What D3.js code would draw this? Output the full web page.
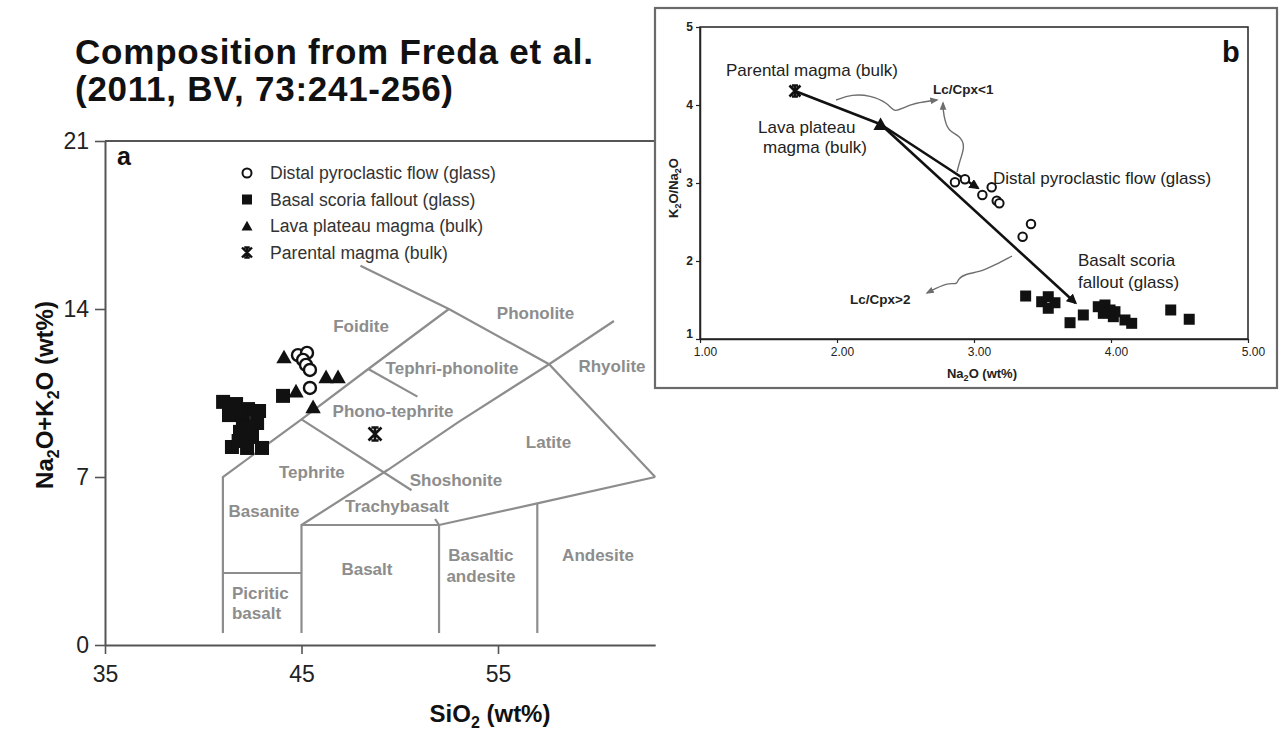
<!DOCTYPE html>
<html>
<head>
<meta charset="utf-8">
<script src="https://cdn.jsdelivr.net/npm/d3@7"></script>
<style>
  body { margin: 0; background: #fff; }
  svg { display: block; }
  text { font-family: "Liberation Sans", Arial, Helvetica, sans-serif; }
</style>
</head>
<body>
<svg id="chart" width="1283" height="756"></svg>
<script>
// ---------- Panel a: total alkali vs silica (wt%) ----------
const tasTicksX = [35, 45, 55];
const tasTicksY = [0, 7, 14, 21];

// [SiO2, Na2O+K2O]
const distalGlassTAS = [[44.82, 12.08], [45.28, 12.17], [45.08, 11.88], [45.23, 11.67], [45.43, 11.46], [45.43, 10.71]];
const basalScoriaTAS = [
  [41.01, 10.13], [41.67, 10.04], [42.28, 9.83], [42.84, 9.75], [41.31, 9.58], [42.02, 9.38],
  [42.74, 9.25], [41.87, 8.88], [42.48, 8.67], [41.46, 8.25], [42.23, 8.21], [42.99, 8.21],
  [41.9, 9.7], [42.3, 9.1], [41.8, 8.5], [44.06, 10.38]
];
const lavaPlateauTAS = [[44.11, 12.0], [44.72, 10.58], [46.25, 11.17], [46.86, 11.17], [45.59, 9.92]];
const parentalTAS = [[48.74, 8.79]];

// classification field boundaries, [SiO2, Na2O+K2O]
const tasBoundaries = [
  [[41, 0.5], [41, 7], [45, 9.4], [48.4, 11.5], [52.5, 14]],
  [[48.0, 15.8], [52.5, 14], [57.6, 11.7], [63, 7]],
  [[41, 3], [45, 3]],
  [[45, 0.5], [45, 5], [52, 5], [57, 5.9], [63, 7]],
  [[52, 0.5], [52, 5]],
  [[57, 0.5], [57, 5.9]],
  [[45, 5], [49.4, 7.3], [53, 9.3], [57.6, 11.7], [60.9, 13.5]],
  [[45, 9.4], [50.6, 6.45]],
  [[48.4, 11.5], [50.9, 10.35]],
  [[52, 5], [51.8, 5.25]]
];

// field names: [SiO2, Na2O+K2O, text, anchor]
const tasFieldNames = [
  [48.03, 13.29, "Foidite", "middle"],
  [56.91, 13.83, "Phonolite", "middle"],
  [52.66, 11.54, "Tephri-phonolite", "middle"],
  [60.80, 11.63, "Rhyolite", "middle"],
  [49.66, 9.75, "Phono-tephrite", "middle"],
  [57.57, 8.46, "Latite", "middle"],
  [45.53, 7.21, "Tephrite", "middle"],
  [52.86, 6.88, "Shoshonite", "middle"],
  [43.09, 5.58, "Basanite", "middle"],
  [49.86, 5.79, "Trachybasalt", "middle"],
  [48.33, 3.17, "Basalt", "middle"],
  [54.13, 3.75, "Basaltic", "middle"],
  [54.13, 2.88, "andesite", "middle"],
  [60.09, 3.75, "Andesite", "middle"],
  [41.46, 2.17, "Picritic", "start"],
  [41.46, 1.33, "basalt", "start"]
];

const legendLabels = [
  "Distal pyroclastic flow (glass)",
  "Basal scoria fallout (glass)",
  "Lava plateau magma (bulk)",
  "Parental magma (bulk)"
];
const legendSymbols = ["circle", "square", "triangle", "star"];

// ---------- Panel b: K2O/Na2O vs Na2O ----------
const naTicks = [1, 2, 3, 4, 5];
const ratioTicks = [1, 2, 3, 4, 5];

// [Na2O, K2O/Na2O]
const distalGlassRatio = [[2.861, 3.009], [2.934, 3.047], [3.061, 2.846], [3.129, 2.945], [3.166, 2.773], [3.185, 2.740], [3.355, 2.312], [3.416, 2.474]];
const basalScoriaRatio = [
  [3.377, 1.551], [3.494, 1.478], [3.542, 1.542], [3.591, 1.465], [3.542, 1.394], [3.701, 1.209],
  [3.798, 1.308], [3.907, 1.414], [3.956, 1.436], [3.993, 1.372], [3.944, 1.329], [4.017, 1.286],
  [4.029, 1.350], [4.102, 1.244], [4.151, 1.201], [4.436, 1.372], [4.571, 1.253]
];
const lavaPlateauRatio = [[2.318, 3.753]];
const parentalRatio = [[1.693, 4.179]];

// evolution paths: parental -> lava plateau -> glasses
const evolutionPaths = [
  [[1.693, 4.179], [2.318, 3.753]],
  [[2.318, 3.753], [3.029, 2.936]],
  [[2.318, 3.753], [3.741, 1.462]]
];
// hand-drawn pointers to the Lc/Cpx notes
const pointerPaths = [
  [[1.993, 4.064], [2.109, 4.138], [2.241, 4.125], [2.372, 4.026], [2.416, 3.903], [2.482, 3.964], [2.569, 4.026], [2.730, 4.064]],
  [[2.876, 3.141], [2.898, 3.295], [2.935, 3.474], [2.898, 3.603], [2.815, 3.667], [2.788, 3.795], [2.774, 3.936], [2.774, 4.026]],
  [[3.277, 2.064], [3.153, 1.949], [3.044, 1.859], [2.934, 1.833], [2.883, 1.769], [2.876, 1.692], [2.810, 1.731], [2.657, 1.590]]
];

// ================= drawing =================
const svg = d3.select("#chart");
svg.append("rect").attr("width", 1283).attr("height", 756).attr("fill", "#fff");

const ink = "#111";
const fieldGrey = "#8d8d8d";

// symbol path generators (centred on 0,0)
function symbolPath(type, s) {
  const h = s / 2;
  if (type === "square") return `M${-h},${-h}H${h}V${h}H${-h}Z`;
  if (type === "triangle") return `M0,${-h * 1.05}L${h * 1.1},${h * 0.9}L${-h * 1.1},${h * 0.9}Z`;
  if (type === "star") return `M${-h},${-h}L${h},${h}M${h},${-h}L${-h},${h}M0,${-h}L0,${h}M${-h * 0.55},${-h}H${h * 0.55}M${-h * 0.55},${h}H${h * 0.55}`;
  return "";
}

function drawMarker(g, type, cx, cy, s, sw) {
  if (type === "circle") {
    g.append("circle").attr("cx", cx).attr("cy", cy).attr("r", s / 2)
      .attr("fill", "#fff").attr("stroke", ink).attr("stroke-width", sw);
  } else if (type === "star") {
    g.append("path").attr("transform", `translate(${cx},${cy})`).attr("d", symbolPath(type, s))
      .attr("fill", "none").attr("stroke", ink).attr("stroke-width", sw);
  } else {
    g.append("path").attr("transform", `translate(${cx},${cy})`).attr("d", symbolPath(type, s))
      .attr("fill", ink);
  }
}

// ---- title ----
const title = svg.append("g").attr("font-size", 35).attr("font-weight", "bold").attr("fill", ink);
title.append("text").attr("x", 75).attr("y", 64)
  .attr("textLength", 518).attr("lengthAdjust", "spacing").text("Composition from Freda et al.");
title.append("text").attr("x", 75).attr("y", 101)
  .attr("textLength", 378).attr("lengthAdjust", "spacing").text("(2011, BV, 73:241-256)");

// ---- panel a ----
const xA = d3.scaleLinear().domain([35, 63]).range([105, 105 + 28 * 19.65]);
const yA = d3.scaleLinear().domain([0, 21]).range([645, 141]);
const gA = svg.append("g");

const lineA = d3.line().x(d => xA(d[0])).y(d => yA(d[1]));

gA.selectAll("path.field").data(tasBoundaries).join("path")
  .attr("class", "field").attr("d", lineA)
  .attr("fill", "none").attr("stroke", fieldGrey).attr("stroke-width", 2.2)
  .attr("stroke-linejoin", "miter");

gA.selectAll("text.fname").data(tasFieldNames).join("text")
  .attr("class", "fname")
  .attr("x", d => xA(d[0])).attr("y", d => yA(d[1]))
  .attr("dy", "0.35em")
  .attr("text-anchor", d => d[3])
  .attr("font-size", 17).attr("font-weight", "bold").attr("fill", fieldGrey)
  .text(d => d[2]);

// frame and axes
gA.append("line").attr("x1", xA(35)).attr("x2", xA(63)).attr("y1", yA(21)).attr("y2", yA(21))
  .attr("stroke", "#555").attr("stroke-width", 2);

const axA_x = gA.append("g").attr("transform", `translate(0,${yA(0)})`)
  .call(d3.axisBottom(xA).tickValues(tasTicksX).tickFormat(d3.format("d")).tickSize(9).tickSizeOuter(0).tickPadding(12));
const axA_y = gA.append("g").attr("transform", `translate(${xA(35)},0)`)
  .call(d3.axisLeft(yA).tickValues(tasTicksY).tickFormat(d3.format("d")).tickSize(10).tickSizeOuter(0).tickPadding(6));
[axA_x, axA_y].forEach(ax => {
  ax.select(".domain").attr("stroke", "#555").attr("stroke-width", 2);
  ax.selectAll(".tick line").attr("stroke", "#555").attr("stroke-width", 1.6);
  ax.selectAll(".tick text").attr("font-size", 23).attr("fill", "#222")
    .attr("font-family", '"Liberation Sans", Arial, sans-serif');
});

// axis titles
const xTitleA = gA.append("text").attr("x", 490).attr("y", 722).attr("text-anchor", "middle")
  .attr("font-size", 24).attr("font-weight", "bold").attr("fill", ink);
xTitleA.append("tspan").text("SiO");
xTitleA.append("tspan").attr("font-size", 16).attr("dy", 6).text("2");
xTitleA.append("tspan").attr("dy", -6).text(" (wt%)");

const yTitleA = gA.append("text").attr("transform", "translate(53,395) rotate(-90)")
  .attr("text-anchor", "middle").attr("font-size", 24).attr("font-weight", "bold").attr("fill", ink);
yTitleA.append("tspan").text("Na");
yTitleA.append("tspan").attr("font-size", 16).attr("dy", 6).text("2");
yTitleA.append("tspan").attr("dy", -6).text("O+K");
yTitleA.append("tspan").attr("font-size", 16).attr("dy", 6).text("2");
yTitleA.append("tspan").attr("dy", -6).text("O (wt%)");

gA.append("text").attr("x", 117).attr("y", 165).attr("font-size", 25).attr("font-weight", "bold")
  .attr("fill", ink).text("a");

// data points
const ptsA = gA.append("g");
basalScoriaTAS.forEach(d => drawMarker(ptsA, "square", xA(d[0]), yA(d[1]), 14, 0));
lavaPlateauTAS.forEach(d => drawMarker(ptsA, "triangle", xA(d[0]), yA(d[1]), 14, 0));
distalGlassTAS.forEach(d => drawMarker(ptsA, "circle", xA(d[0]), yA(d[1]), 12, 2.4));
parentalTAS.forEach(d => drawMarker(ptsA, "star", xA(d[0]), yA(d[1]), 13, 2.6));

// legend
const legA = gA.append("g");
legendLabels.forEach((lab, i) => {
  const cy = 173 + i * 26.5;
  const sym = legendSymbols[i];
  const size = sym === "circle" ? 9 : 10;
  drawMarker(legA, sym, 247, cy, size, sym === "star" ? 2.4 : 2);
  legA.append("text").attr("x", 270).attr("y", cy).attr("dy", "0.36em")
    .attr("font-size", 17.6).attr("fill", "#333").text(lab);
});

// ---- panel b ----
const gB = svg.append("g");
gB.append("rect").attr("x", 655).attr("y", 8).attr("width", 622).attr("height", 380)
  .attr("fill", "#fff").attr("stroke", "#6a6a6a").attr("stroke-width", 2.2);

const xB = d3.scaleLinear().domain([1, 5]).range([700, 1248]);
const yB = d3.scaleLinear().domain([1, 5]).range([339, 27]);
const lineB = d3.line().x(d => xB(d[0])).y(d => yB(d[1]));

gB.append("rect").attr("x", xB(1)).attr("y", yB(5)).attr("width", xB(5) - xB(1)).attr("height", yB(1) - yB(5))
  .attr("fill", "none").attr("stroke", "#222").attr("stroke-width", 1.5);

const axB_x = gB.append("g").attr("transform", `translate(0,${yB(1)})`)
  .call(d3.axisBottom(xB).tickValues(naTicks).tickFormat(d3.format(".2f")).tickSize(4).tickSizeOuter(0).tickPadding(4));
const axB_y = gB.append("g").attr("transform", `translate(${xB(1)},0)`)
  .call(d3.axisLeft(yB).tickValues(ratioTicks).tickFormat(d3.format("d")).tickSize(4).tickSizeOuter(0).tickPadding(3));
[axB_x, axB_y].forEach(ax => {
  ax.select(".domain").attr("stroke", "#222").attr("stroke-width", 1.5);
  ax.selectAll(".tick line").attr("stroke", "#222").attr("stroke-width", 1.2);
  ax.selectAll(".tick text").attr("font-size", 12).attr("fill", "#222")
    .attr("font-family", '"Liberation Sans", Arial, sans-serif');
});
axB_x.selectAll(".tick text").attr("dx", 5);
axB_y.selectAll(".tick text").attr("font-weight", "bold").attr("dy", d => d === 1 ? "-0.1em" : "0.32em");

const xTitleB = gB.append("text").attr("x", 982).attr("y", 378).attr("text-anchor", "middle")
  .attr("font-size", 13).attr("font-weight", "bold").attr("fill", "#222");
xTitleB.append("tspan").text("Na");
xTitleB.append("tspan").attr("font-size", 9).attr("dy", 3).text("2");
xTitleB.append("tspan").attr("dy", -3).text("O (wt%)");

const yTitleB = gB.append("text").attr("transform", "translate(678,188) rotate(-90)")
  .attr("text-anchor", "middle").attr("font-size", 13).attr("font-weight", "bold").attr("fill", "#222");
yTitleB.append("tspan").text("K");
yTitleB.append("tspan").attr("font-size", 9).attr("dy", 3).text("2");
yTitleB.append("tspan").attr("dy", -3).text("O/Na");
yTitleB.append("tspan").attr("font-size", 9).attr("dy", 3).text("2");
yTitleB.append("tspan").attr("dy", -3).text("O");

gB.append("text").attr("x", 1222).attr("y", 62).attr("font-size", 29).attr("font-weight", "bold")
  .attr("fill", ink).text("b");

// arrowheads
const defs = svg.append("defs");
defs.append("marker").attr("id", "headBlack").attr("viewBox", "0 0 10 10").attr("refX", 8).attr("refY", 5)
  .attr("markerWidth", 4).attr("markerHeight", 4).attr("orient", "auto-start-reverse")
  .append("path").attr("d", "M0,0L10,5L0,10Z").attr("fill", ink);
defs.append("marker").attr("id", "headGrey").attr("viewBox", "0 0 10 10").attr("refX", 8).attr("refY", 5)
  .attr("markerWidth", 6).attr("markerHeight", 6).attr("orient", "auto-start-reverse")
  .append("path").attr("d", "M0,1L10,5L0,9Z").attr("fill", "#6e6e6e");

const curveB = d3.line().x(d => xB(d[0])).y(d => yB(d[1])).curve(d3.curveBasis);
gB.selectAll("path.pointer").data(pointerPaths).join("path")
  .attr("class", "pointer").attr("d", curveB)
  .attr("fill", "none").attr("stroke", "#6e6e6e").attr("stroke-width", 1.4)
  .attr("marker-end", "url(#headGrey)");

gB.selectAll("path.evo").data(evolutionPaths).join("path")
  .attr("class", "evo").attr("d", lineB)
  .attr("fill", "none").attr("stroke", ink).attr("stroke-width", 2.6)
  .attr("marker-end", (d, i) => i === 0 ? null : "url(#headBlack)");

const ptsB = gB.append("g");
basalScoriaRatio.forEach(d => drawMarker(ptsB, "square", xB(d[0]), yB(d[1]), 11, 0));
distalGlassRatio.forEach(d => drawMarker(ptsB, "circle", xB(d[0]), yB(d[1]), 8.5, 2));
lavaPlateauRatio.forEach(d => drawMarker(ptsB, "triangle", xB(d[0]), yB(d[1]), 13, 0));
parentalRatio.forEach(d => drawMarker(ptsB, "star", xB(d[0]), yB(d[1]), 11, 2.6));

// annotations
const noteB = gB.append("g").attr("fill", "#222").attr("font-size", 17);
noteB.append("text").attr("x", 726).attr("y", 76).text("Parental magma (bulk)");
noteB.append("text").attr("x", 758).attr("y", 133).text("Lava plateau");
noteB.append("text").attr("x", 763).attr("y", 153).text("magma (bulk)");
noteB.append("text").attr("x", 993).attr("y", 184).text("Distal pyroclastic flow (glass)");
noteB.append("text").attr("x", 1078).attr("y", 266).text("Basalt scoria");
noteB.append("text").attr("x", 1078).attr("y", 288).text("fallout (glass)");
gB.append("text").attr("x", 933).attr("y", 94).attr("font-size", 13.5).attr("font-weight", "bold")
  .attr("fill", "#222").text("Lc/Cpx<1");
gB.append("text").attr("x", 850).attr("y", 304).attr("font-size", 13.5).attr("font-weight", "bold")
  .attr("fill", "#222").text("Lc/Cpx>2");
</script>
</body>
</html>
